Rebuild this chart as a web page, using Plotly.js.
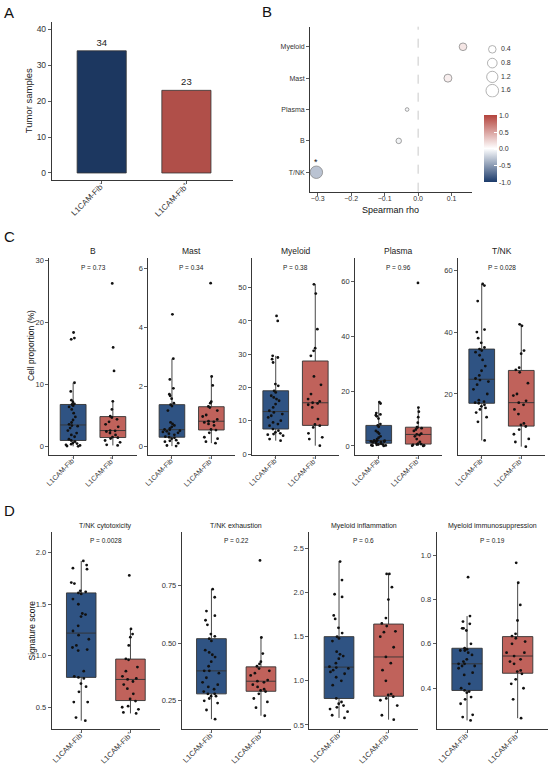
<!DOCTYPE html>
<html><head><meta charset="utf-8">
<script src="https://cdn.plot.ly/plotly-3.0.1.min.js"></script>
<style>html,body{margin:0;padding:0;background:#fff}#chart{width:550px;height:766px}</style>
</head><body><div id="chart"></div>
<script>
// ---------------- DATA ----------------
const groups = ["L1CAM-Fib-", "L1CAM-Fib+"];
const groupLabels = ["L1CAM-Fib<sup>-</sup>", "L1CAM-Fib<sup>+</sup>"];
const tumorSamples = [34, 23];

// Panel B
const rhoCells = ["T/NK", "B", "Plasma", "Mast", "Myeloid"];
const spearmanRho = [-0.304, -0.058, -0.033, 0.089, 0.134];
const negLog10P = [1.55, 0.14, 0.02, 0.47, 0.42];
const sizeLegend = [0.4, 0.8, 1.2, 1.6];
const rhoTicks = [-1, -0.5, 0, 0.5, 1];

// Panel C : cell proportion (%)
const propCells = ["B", "Mast", "Myeloid", "Plasma", "T/NK"];
const propP = ["0.73", "0.34", "0.38", "0.96", "0.028"];
const propB_neg = [0.05,0.1,0.2,0.3,0.4,0.5,0.6,0.8,1.0,1.2,1.6,1.9,2.2,2.6,3.0,3.3,3.4,3.6,3.9,4.3,4.8,5.4,6.0,6.4,6.6,6.8,6.9,7.2,7.5,8.9,10.3,17.3,17.5,18.4];
const propB_pos = [0.2,0.3,0.7,1.0,1.3,1.45,1.55,1.9,2.2,2.45,2.55,2.6,3.2,3.6,4.0,4.4,4.7,4.9,6.0,7.3,12.2,16.0,26.3];
const propMast_neg = [0.0,0.02,0.1,0.15,0.18,0.2,0.25,0.28,0.3,0.32,0.38,0.42,0.45,0.48,0.5,0.52,0.55,0.56,0.6,0.65,0.7,0.75,0.8,1.2,1.35,1.4,1.45,1.6,1.7,1.75,1.95,2.25,2.95,4.45];
const propMast_pos = [0.1,0.15,0.25,0.3,0.45,0.54,0.56,0.7,0.75,0.8,0.82,0.84,0.9,1.0,1.05,1.2,1.3,1.34,1.45,1.5,2.05,2.35,5.5];
const propMyeloid_neg = [4.0,4.5,5.5,5.8,6.0,6.2,6.5,7.0,7.5,8.5,9.0,9.5,10.0,11.0,11.5,12.0,12.5,13.0,14.0,15.0,16.0,16.5,17.0,17.5,18.5,19.0,20.5,21.0,27.5,28.5,29.0,29.5,40.0,41.5];
const propMyeloid_pos = [2.5,4.5,5.0,6.2,8.0,8.5,8.9,10.5,14.0,14.8,15.2,15.4,15.8,16.5,18.0,20.8,23.3,29.5,31.0,31.8,37.5,48.2,51.0];
const propPlasma_neg = [0.0,0.1,0.2,0.3,0.4,0.5,0.6,0.8,1.0,1.3,1.4,1.5,1.6,1.7,1.8,1.9,1.95,2.05,2.5,3.0,3.5,4.5,5.0,5.5,7.0,7.5,8.0,10.0,10.8,11.2,11.5,12.0,15.5,16.0];
const propPlasma_pos = [0.0,0.1,0.2,0.4,0.5,0.65,0.8,1.5,2.5,3.5,4.0,4.2,4.5,5.5,6.0,6.5,6.7,6.9,8.5,10.5,12.5,14.0,59.5];
const propTNK_neg = [5.0,11.0,12.5,14.0,15.0,15.5,16.0,16.5,17.0,17.2,17.5,18.0,20.0,21.5,23.0,24.0,24.5,25.0,26.0,27.5,29.0,31.0,32.5,33.5,34.0,34.5,35.0,36.5,38.0,40.0,40.8,50.0,55.0,55.5];
const propTNK_pos = [3.0,4.5,5.5,7.0,8.5,9.5,10.0,10.5,13.5,15.0,16.5,17.2,17.8,19.5,20.0,23.5,27.0,27.8,28.5,33.0,34.0,42.0,42.5];

// Panel D : signature scores
const sigNames = ["T/NK cytotoxicity", "T/NK exhaustion", "Myeloid inflammation", "Myeloid immunosuppression"];
const sigP = ["0.0028", "0.22", "0.6", "0.19"];
const sigCyto_neg = [0.37,0.40,0.55,0.55,0.65,0.70,0.73,0.78,0.79,0.80,0.85,1.05,1.06,1.08,1.10,1.16,1.20,1.24,1.29,1.38,1.40,1.41,1.50,1.55,1.60,1.61,1.62,1.63,1.70,1.71,1.84,1.85,1.88,1.92];
const sigCyto_pos = [0.44,0.45,0.48,0.50,0.51,0.56,0.58,0.63,0.68,0.72,0.75,0.77,0.78,0.80,0.85,0.89,0.96,0.97,1.10,1.18,1.21,1.26,1.78];
const sigExh_neg = [0.17,0.21,0.24,0.25,0.26,0.27,0.27,0.28,0.28,0.29,0.30,0.31,0.32,0.33,0.35,0.37,0.38,0.38,0.40,0.42,0.44,0.45,0.46,0.47,0.51,0.52,0.53,0.54,0.58,0.60,0.62,0.64,0.70,0.735];
const sigExh_pos = [0.185,0.22,0.245,0.26,0.28,0.29,0.295,0.30,0.31,0.32,0.33,0.335,0.34,0.36,0.37,0.38,0.39,0.40,0.41,0.42,0.455,0.525,0.86];
const sigInfl_neg = [0.58,0.61,0.65,0.68,0.70,0.72,0.74,0.76,0.80,0.95,1.00,1.04,1.08,1.10,1.12,1.14,1.15,1.16,1.20,1.25,1.28,1.30,1.33,1.45,1.48,1.50,1.54,1.60,1.70,1.74,1.95,1.98,2.14,2.35];
const sigInfl_pos = [0.56,0.61,0.72,0.78,0.80,0.82,0.84,0.85,1.00,1.12,1.20,1.27,1.38,1.50,1.55,1.56,1.62,1.65,1.71,1.92,2.06,2.21,2.21];
const sigImm_neg = [0.255,0.27,0.28,0.33,0.35,0.36,0.38,0.385,0.39,0.40,0.42,0.46,0.47,0.49,0.50,0.50,0.51,0.51,0.52,0.53,0.55,0.56,0.57,0.57,0.575,0.58,0.60,0.66,0.67,0.67,0.69,0.70,0.725,0.90];
const sigImm_pos = [0.265,0.35,0.40,0.42,0.44,0.465,0.475,0.48,0.51,0.52,0.53,0.545,0.56,0.56,0.60,0.61,0.625,0.635,0.645,0.705,0.775,0.875,0.965];

// ---------------- STYLE / LAYOUT ----------------
const W = 550, H = 766;
const px = x => x / W, py = y => 1 - y / H;
const FONT = "Liberation Sans, Arial, sans-serif";
const BLUE_BAR = "#1c3760", RED_BAR = "#b04f49";
const BLUE_BOX = "#2f5383", RED_BOX = "#c0625b";
const TXT = "#333";

function axisBase(extra) {
  return Object.assign({
    showline: true, linecolor: '#222', linewidth: 0.9,
    ticks: 'outside', ticklen: 3, tickwidth: 0.8, tickcolor: '#333',
    showgrid: false, zeroline: false, fixedrange: true,
    tickfont: { size: 7.5, color: TXT, family: FONT }
  }, extra);
}
function catAxis(domain, anchor, fontSize) {
  return axisBase({
    domain: domain, anchor: anchor, type: 'category',
    categoryorder: 'array', categoryarray: groups,
    tickvals: groups, ticktext: groupLabels,
    range: [-0.6, 1.6], tickangle: -45, ticklabelstandoff: -6,
    tickfont: { size: fontSize, color: TXT, family: FONT }
  });
}
function ann(text, x, y, size, extra) {
  return Object.assign({ text: text, xref: 'paper', yref: 'paper', x: px(x), y: py(y), xanchor: 'center', yanchor: 'middle', showarrow: false, font: { size: size, color: '#222', family: FONT } }, extra || {});
}

const traces = [];
const annotations = [];
const shapes = [];
const layout = {
  width: W, height: H, margin: { l: 0, r: 0, t: 0, b: 0 },
  paper_bgcolor: '#fff', plot_bgcolor: '#fff',
  showlegend: false, font: { family: FONT, color: TXT },
  boxmode: 'overlay'
};

// ---- Panel A ----
layout.xaxis = catAxis([px(51.7), px(233)], 'y', 8);
layout.xaxis.range = [-0.59, 1.55];
layout.yaxis = axisBase({ domain: [py(180), py(21.7)], anchor: 'x', range: [-1.95, 42.1], dtick: 10, tick0: 0, tickfont: { size: 8.5, color: TXT, family: FONT } });
traces.push({
  type: 'bar', x: groups, y: tumorSamples, xaxis: 'x', yaxis: 'y',
  width: 0.58, marker: { color: [BLUE_BAR, RED_BAR], line: { color: '#333', width: 0.8 } },
  text: tumorSamples.map(String), textposition: 'outside', cliponaxis: false,
  textfont: { size: 9.5, color: '#222', family: FONT }, hoverinfo: 'skip'
});
annotations.push(ann('Tumor samples', 28.3, 101, 9.5, { textangle: -90 }));

// ---- Panel B ----
const bubbleSize = v => 2.5 + 8 * Math.sqrt(v);
layout.xaxis2 = axisBase({ domain: [px(310), px(471.7)], anchor: 'y2', range: [-0.323, 0.16], tick0: 0, dtick: 0.1, tickformat: '.1f', ticklabelstandoff: -3, tickfont: { size: 7, color: TXT, family: FONT } });
layout.yaxis2 = axisBase({ domain: [py(191.7), py(26.7)], anchor: 'x2', type: 'category', categoryorder: 'array', categoryarray: rhoCells, range: [-0.62, 4.64], tickfont: { size: 7, color: TXT, family: FONT } });
shapes.push({ type: 'line', xref: 'x2', yref: 'y2 domain', x0: 0, x1: 0, y0: 0, y1: 1, line: { color: '#b0b0b0', width: 0.7, dash: 'dash' } });
traces.push({
  type: 'scatter', mode: 'markers', x: spearmanRho, y: rhoCells, xaxis: 'x2', yaxis: 'y2',
  marker: {
    size: negLog10P.map(bubbleSize), color: spearmanRho, cmin: -1, cmax: 1,
    colorscale: [[0, '#1b3a6a'], [0.5, '#ffffff'], [1, '#b3433c']],
    line: { color: '#8a8a8a', width: 0.8 }, opacity: 1,
    showscale: true,
    colorbar: {
      x: px(484.3), xanchor: 'left', y: py(149), yanchor: 'middle',
      len: 67, lenmode: 'pixels', thickness: 13, thicknessmode: 'pixels',
      tickvals: rhoTicks, ticktext: rhoTicks.map(v => v.toFixed(1)),
      ticks: 'inside', ticklen: 3, tickcolor: '#fff', tickwidth: 1,
      outlinewidth: 0, xpad: 0, ypad: 0,
      tickfont: { size: 7, color: TXT, family: FONT }
    }
  }, hoverinfo: 'skip'
});
negLog10P.forEach((v, i) => {
  if (v > -Math.log10(0.05)) {
    annotations.push({ text: '*', xref: 'x2', yref: 'y2', x: spearmanRho[i], y: rhoCells[i], yshift: 10, xanchor: 'center', yanchor: 'middle', showarrow: false, font: { size: 9, color: '#111', family: FONT } });
  }
});
// size legend
layout.xaxis3 = { domain: [px(484), px(530)], anchor: 'y3', range: [0, 46], visible: false, fixedrange: true };
layout.yaxis3 = { domain: [py(97.6), py(42.4)], anchor: 'x3', type: 'category', categoryorder: 'array', categoryarray: sizeLegend.map(String), range: [3.5, -0.5], visible: false, fixedrange: true };
traces.push({
  type: 'scatter', mode: 'markers', x: sizeLegend.map(() => 8.3), y: sizeLegend.map(String), xaxis: 'x3', yaxis: 'y3',
  marker: { size: sizeLegend.map(bubbleSize), color: '#fff', line: { color: '#777', width: 0.8 } }, hoverinfo: 'skip'
});
traces.push({
  type: 'scatter', mode: 'text', x: sizeLegend.map(() => 17), y: sizeLegend.map(String), xaxis: 'x3', yaxis: 'y3',
  text: sizeLegend.map(v => v.toFixed(1)), textposition: 'middle right', cliponaxis: false,
  textfont: { size: 7, color: TXT, family: FONT }, hoverinfo: 'skip'
});
annotations.push(ann('Spearman rho', 390, 209.5, 9, { font: { size: 9, color: '#111', family: FONT } }));

// ---- Panel C ----
const cData = [[propB_neg, propB_pos], [propMast_neg, propMast_pos], [propMyeloid_neg, propMyeloid_pos], [propPlasma_neg, propPlasma_pos], [propTNK_neg, propTNK_pos]];
const cDom = [[49.3, 136.7], [148.3, 235], [252, 339], [355, 442], [458, 545]];
const cRange = [[-1.34, 30.4], [-0.3, 6.35], [-0.3, 58.9], [-3.3, 68.6], [0.3, 63.9]];
const cDtick = [10, 2, 10, 20, 20];
function addBoxPair(idx, data, xd, yd, yr, dtick, fmt, bw, fontX) {
  const xa = 'xaxis' + idx, ya = 'yaxis' + idx;
  layout[xa] = catAxis([px(xd[0]), px(xd[1])], 'y' + idx, fontX);
  layout[ya] = axisBase({ domain: [py(yd[1]), py(yd[0])], anchor: 'x' + idx, range: yr, dtick: dtick, tick0: 0, tickformat: fmt });
  [0, 1].forEach(g => {
    traces.push({
      type: 'box', x0: groups[g], y: data[g], xaxis: 'x' + idx, yaxis: 'y' + idx,
      width: bw, fillcolor: g === 0 ? BLUE_BOX : RED_BOX,
      line: { color: '#333', width: 0.9 }, whiskerwidth: 0,
      boxpoints: 'all', jitter: 0.75, pointpos: 0,
      marker: { size: 2.8, color: '#111', line: { width: 0 } }, hoverinfo: 'skip'
    });
  });
}
cData.forEach((d, i) => {
  addBoxPair(4 + i, d, cDom[i], [258, 455], cRange[i], cDtick[i], '', 0.65, 7);
  const cx = (cDom[i][0] + cDom[i][1]) / 2;
  annotations.push(ann(propCells[i], cx, 251, 8.5));
  annotations.push(ann('P = ' + propP[i], cx, 267.5, 6.5));
});
annotations.push(ann('Cell proportion (%)', 31, 346, 8.5, { textangle: -90, font: { size: 8.5, color: '#111', family: FONT } }));

// ---- Panel D ----
const dData = [[sigCyto_neg, sigCyto_pos], [sigExh_neg, sigExh_pos], [sigInfl_neg, sigInfl_pos], [sigImm_neg, sigImm_pos]];
const dDom = [[51.7, 160], [181.7, 290.7], [309.3, 418.3], [436.7, 548]];
const dRange = [[0.286, 2.204], [0.126, 0.985], [0.451, 2.688], [0.215, 1.105]];
const dDtick = [0.5, 0.25, 0.5, 0.2];
const dFmt = ['.1f', '.2f', '.1f', '.1f'];
dData.forEach((d, i) => {
  addBoxPair(9 + i, d, dDom[i], [531.7, 729.3], dRange[i], dDtick[i], dFmt[i], 0.6, 7.5);
  const cx = (dDom[i][0] + dDom[i][1]) / 2;
  annotations.push(ann(sigNames[i], cx, 525.7, 7));
  annotations.push(ann('P = ' + sigP[i], cx, 540.7, 6.5));
});
annotations.push(ann('Signature score', 31, 630.5, 8.5, { textangle: -90, font: { size: 8.5, color: '#111', family: FONT } }));

// panel letters
[['A', 8.5, 12.7], ['B', 267, 12], ['C', 9, 236], ['D', 9, 510.5]].forEach(([t, x, y]) => {
  annotations.push(ann(t, x, y, 15, { font: { size: 15, color: '#111', family: FONT } }));
});

layout.annotations = annotations;
layout.shapes = shapes;
Plotly.newPlot('chart', traces, layout, { staticPlot: true, displayModeBar: false });
</script>
</body></html>
